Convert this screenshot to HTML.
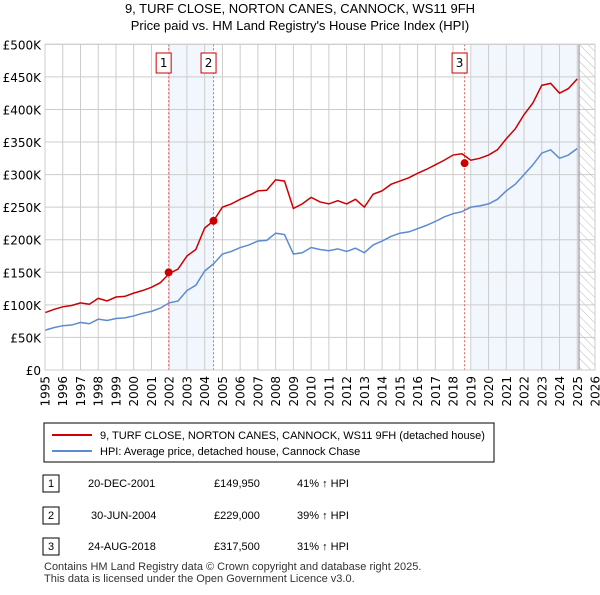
<!DOCTYPE html>
<html><head><meta charset="utf-8"><style>
body{margin:0;background:#fff;font-family:"Liberation Sans",sans-serif;}
svg text{font-family:"Liberation Sans",sans-serif;}
svg text.tk{font-family:"DejaVu Sans",sans-serif;}
</style></head><body>
<svg id="c" width="600" height="590" xmlns="http://www.w3.org/2000/svg">
<text x="300" y="13" text-anchor="middle" font-size="13">9, TURF CLOSE, NORTON CANES, CANNOCK, WS11 9FH</text>
<text x="300" y="30" text-anchor="middle" font-size="13">Price paid vs. HM Land Registry's House Price Index (HPI)</text>
<g id="plot"></g>
<g>
<rect x="44" y="423" width="450" height="39" fill="#fff" stroke="#000" stroke-width="1"/>
<line x1="52" y1="435" x2="92" y2="435" stroke="#cc0000" stroke-width="2"/>
<text x="100" y="439" font-size="11">9, TURF CLOSE, NORTON CANES, CANNOCK, WS11 9FH (detached house)</text>
<line x1="52" y1="451" x2="92" y2="451" stroke="#5b8bd0" stroke-width="2"/>
<text x="100" y="455" font-size="11">HPI: Average price, detached house, Cannock Chase</text>
</g>
<g font-size="11">
<rect x="43" y="475" width="16" height="17" fill="#fff" stroke="#000"/><text x="51" y="487" text-anchor="middle">1</text>
<text x="88" y="487">20-DEC-2001</text><text x="214" y="487">£149,950</text><text x="297" y="487">41% ↑ HPI</text>
<rect x="43" y="507" width="16" height="17" fill="#fff" stroke="#000"/><text x="51" y="519" text-anchor="middle">2</text>
<text x="91" y="519">30-JUN-2004</text><text x="214" y="519">£229,000</text><text x="297" y="519">39% ↑ HPI</text>
<rect x="43" y="538" width="16" height="17" fill="#fff" stroke="#000"/><text x="51" y="550" text-anchor="middle">3</text>
<text x="88" y="550">24-AUG-2018</text><text x="214" y="550">£317,500</text><text x="297" y="550">31% ↑ HPI</text>
</g>
<text x="44" y="570" font-size="11" fill="#333">Contains HM Land Registry data © Crown copyright and database right 2025.</text>
<text x="44" y="582" font-size="11" fill="#333">This data is licensed under the Open Government Licence v3.0.</text>
</svg>
<script>
const dates=[1995,1995.5,1996,1996.5,1997,1997.5,1998,1998.5,1999,1999.5,2000,2000.5,2001,2001.5,2002,2002.5,2003,2003.5,2004,2004.5,2005,2005.5,2006,2006.5,2007,2007.5,2008,2008.5,2009,2009.5,2010,2010.5,2011,2011.5,2012,2012.5,2013,2013.5,2014,2014.5,2015,2015.5,2016,2016.5,2017,2017.5,2018,2018.5,2019,2019.5,2020,2020.5,2021,2021.5,2022,2022.5,2023,2023.5,2024,2024.5,2025];
const hpi=[61,65,68,69,73,71,78,76,79,80,83,87,90,95,103,106,122,130,152,163,178,182,188,192,198,199,210,208,178,180,188,185,183,186,182,187,180,192,198,205,210,212,217,222,228,235,240,243,250,252,255,262,275,285,300,315,333,338,325,330,340];
const price=[88,93,97,99,103,101,110,106,112,113,118,122,127,134,148,155,175,185,218,229,250,255,262,268,275,276,292,290,248,255,265,258,255,260,255,262,250,270,275,285,290,295,302,308,315,322,330,332,322,325,330,338,355,370,392,410,437,440,425,432,447];
const saleDates=[2001.97,2004.5,2018.65];
const salePrices=[149.95,229,317.5];
const saleLabels=["1","2","3"];
const yTicks=[0,50,100,150,200,250,300,350,400,450,500];
const yLabels=["£0","£50K","£100K","£150K","£200K","£250K","£300K","£350K","£400K","£450K","£500K"];
const xTicks=[1995,1996,1997,1998,1999,2000,2001,2002,2003,2004,2005,2006,2007,2008,2009,2010,2011,2012,2013,2014,2015,2016,2017,2018,2019,2020,2021,2022,2023,2024,2025,2026];
const X0=45,X1=595,Y0=370,Y1=44.3;
const xs=d=>X0+(d-1995)/(2026-1995)*(X1-X0);
const ys=v=>Y0-v/500*(Y0-Y1);
const NS="http://www.w3.org/2000/svg";
const g=document.getElementById('plot');
function mk(t,a){const e=document.createElementNS(NS,t);for(const k in a)e.setAttribute(k,a[k]);g.appendChild(e);return e;}
let e;
e=mk('rect',{x:xs(2001.97),y:Y1,width:xs(2004.5)-xs(2001.97),height:Y0-Y1,fill:'#f2f6fd'});


e=mk('rect',{x:xs(2019.05),y:Y1,width:xs(2025.1)-xs(2019.05),height:Y0-Y1,fill:'#f2f6fd'});


const defs=document.createElementNS(NS,'defs');
defs.innerHTML='<pattern id="h" width="6" height="6" patternUnits="userSpaceOnUse" patternTransform="rotate(-45)"><line x1="0" y1="0" x2="0" y2="6" stroke="#bbb" stroke-width="1"/></pattern>';
g.appendChild(defs);
e=mk('rect',{x:xs(2025.1),y:Y1,width:X1-xs(2025.1),height:Y0-Y1,fill:'url(#h)'});


yTicks.forEach((v,i)=>{
 e=mk('line',{x1:X0,x2:X1,y1:ys(v),y2:ys(v),stroke:'#ccc','stroke-width':1});
 
 
 e=mk('text',{x:X0-4,y:ys(v)+5,'text-anchor':'end','font-size':12,class:'tk'});
 e.textContent=yLabels[i];
 
 
});
xTicks.forEach(d=>{
 e=mk('line',{x1:xs(d),x2:xs(d),y1:Y1,y2:Y0,stroke:'#ccc','stroke-width':1});
 
 
 e=mk('text',{x:0,y:0,'text-anchor':'end','font-size':12,class:'tk',transform:`translate(${xs(d)+4.5},${Y0+6}) rotate(-90)`});
 e.textContent=d;
 
 
});
e=mk('line',{x1:xs(2025.1),x2:xs(2025.1),y1:Y1,y2:Y0,stroke:'#888','stroke-width':1});


saleDates.forEach((d,i)=>{
 e=mk('line',{x1:xs(d),x2:xs(d),y1:Y1,y2:Y0,stroke:'#e06060','stroke-width':1,'stroke-dasharray':'2,2'});
 
 
});
e=mk('polyline',{points:dates.map((d,i)=>xs(d)+','+ys(hpi[i])).join(' '),fill:'none',stroke:'#5b8bd0','stroke-width':1.5});


e=mk('polyline',{points:dates.map((d,i)=>xs(d)+','+ys(price[i])).join(' '),fill:'none',stroke:'#cc0000','stroke-width':1.5});


saleDates.forEach((d,i)=>{
 e=mk('circle',{cx:xs(d),cy:ys(salePrices[i]),r:4,fill:'#cc0000'});
 
 
 e=mk('rect',{x:xs(d)-12.5,y:53,width:15,height:20,fill:'#fff',stroke:'#cc0000'});
 
 
 e=mk('text',{x:xs(d)-5,y:67,'text-anchor':'middle','font-size':12,class:'tk'});
 e.textContent=saleLabels[i];
 
 
});
e=mk('rect',{x:X0,y:Y1,width:X1-X0,height:Y0-Y1,fill:'none',stroke:'#ccc'});


</script>
</body></html>
